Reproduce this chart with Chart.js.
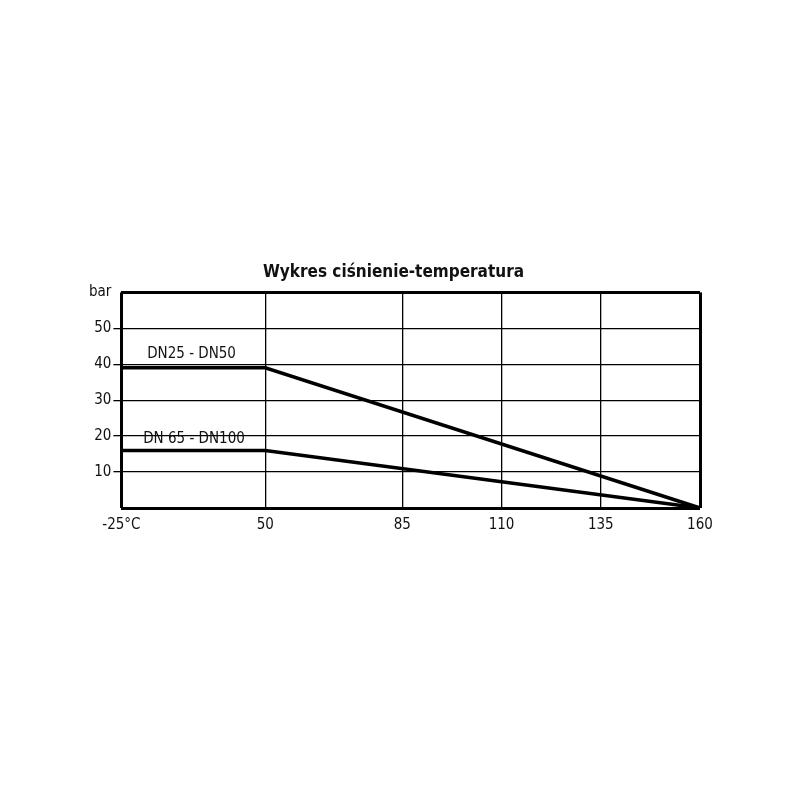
<!DOCTYPE html>
<html>
<head>
<meta charset="utf-8">
<script src="https://cdn.jsdelivr.net/npm/chart.js@4"></script>
<style>
  body { margin: 0; background: #fff; }
  #wrap { position: absolute; left: 0; top: 0; width: 790px; height: 800px; }
</style>
</head>
<body>
<div id="wrap"><canvas id="ctx"></canvas></div>
<script>
// x axis: temperature labels and where they sit along the axis (uneven spacing as in the drawing)
const tempLabels = ['-25°C', '50', '85', '110', '135', '160'];
const tempPos = [0, 1.45, 2.83, 3.83, 4.83, 5.83];

// pressure in bar at each temperature (null = straight line through)
const seriesNames = ['DN25 - DN50', 'DN 65 - DN100'];
const dn25 = [39, 39, null, null, null, 0];
const dn65 = [16, 16, null, null, null, 0];

const FONT = "'Liberation Sans Narrow', 'DejaVu Sans Condensed', sans-serif";

function toPoints(vals) {
    return vals.map((v, i) => ({x: tempPos[i], y: v})).filter(p => p.y !== null);
}

const seriesLabels = {
    id: 'seriesLabels',
    afterDatasetsDraw(chart) {
        const c = chart.ctx;
        const xs = chart.scales.x, ys = chart.scales.y;
        c.save();
        c.fillStyle = '#111';
        c.font = '15px ' + FONT;
        c.textBaseline = 'middle';
        c.textAlign = 'left';
        c.fillText(seriesNames[0], xs.getPixelForValue(0.26), ys.getPixelForValue(dn25[0]) - 14);
        c.fillText(seriesNames[1], xs.getPixelForValue(0.22), ys.getPixelForValue(dn65[0]) - 11);
        c.restore();
    }
};

const mychart = new Chart(document.getElementById('ctx'), {
    type: 'line',
    data: {
        datasets: [
            {label: seriesNames[0], data: toPoints(dn25)},
            {label: seriesNames[1], data: toPoints(dn65)}
        ]
    },
    options: {
        responsive: true,
        maintainAspectRatio: false,
        animation: false,
        layout: {padding: {top: 262, left: 87, right: 90, bottom: 258}},
        elements: {
            line: {borderColor: '#000', borderWidth: 3.5, tension: 0},
            point: {radius: 0}
        },
        datasets: {line: {clip: false}},
        plugins: {
            legend: {display: false},
            tooltip: {enabled: false},
            title: {
                display: true,
                text: 'Wykres ciśnienie-temperatura',
                color: '#111',
                font: {family: FONT, size: 17, weight: 'bold'},
                padding: {top: 0, bottom: 10}
            }
        },
        scales: {
            x: {
                type: 'linear',
                min: tempPos[0],
                max: tempPos[tempPos.length - 1],
                afterBuildTicks: (scale) => {
                    scale.ticks = tempPos.map(v => ({value: v}));
                },
                border: {display: false},
                grid: {
                    color: '#000',
                    drawTicks: false,
                    lineWidth: (ctx) => (ctx.index === 0 || ctx.index === tempPos.length - 1) ? 3 : 1.3
                },
                ticks: {
                    color: '#111',
                    padding: 8,
                    maxRotation: 0,
                    font: {family: FONT, size: 15},
                    callback: (v) => tempLabels[tempPos.indexOf(v)]
                }
            },
            y: {
                min: 0,
                max: 60,
                border: {display: false},
                grid: {
                    color: '#000',
                    tickLength: 8,
                    tickColor: (ctx) => (ctx.tick && (ctx.tick.value === 0 || ctx.tick.value === 60)) ? 'rgba(0,0,0,0)' : '#000',
                    lineWidth: (ctx) => (ctx.tick && (ctx.tick.value === 0 || ctx.tick.value === 60)) ? 3 : 1.3
                },
                ticks: {
                    stepSize: 10,
                    color: '#111',
                    padding: 2,
                    font: {family: FONT, size: 15},
                    callback: (v) => v === 60 ? 'bar' : (v === 0 ? '' : v)
                }
            }
        }
    },
    plugins: [seriesLabels]
});
</script>
</body>
</html>
